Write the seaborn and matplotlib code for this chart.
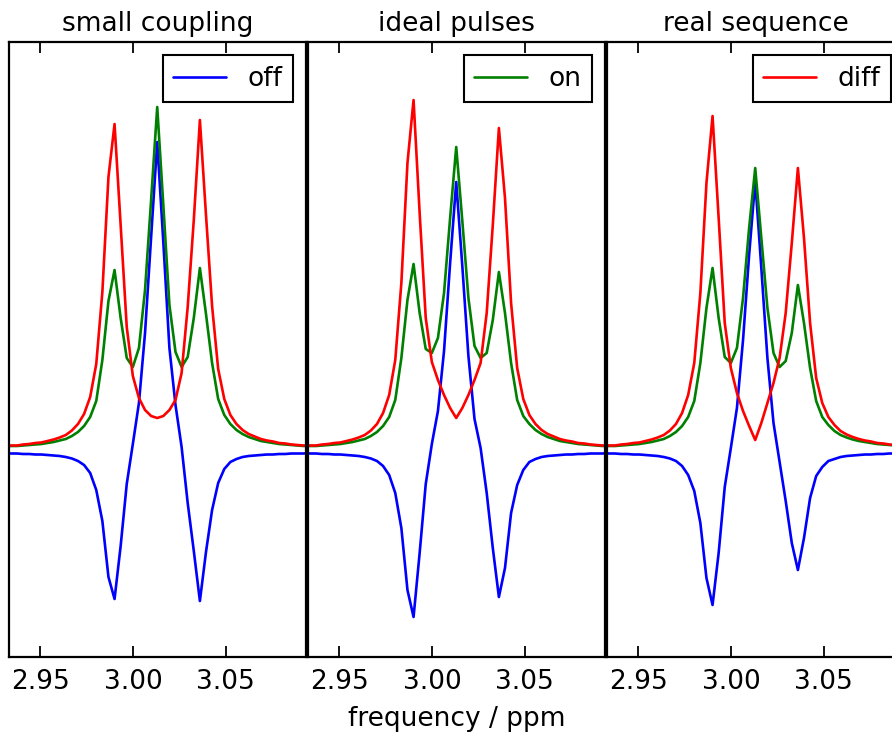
import matplotlib
matplotlib.use("Agg")
import matplotlib.pyplot as plt
import pandas as pd
import seaborn as sns

# chemical-shift grid of the sampled spectrum (ppm)
ppm = [2.93075, 2.93404, 2.93733, 2.94062, 2.94391, 2.94720, 2.95049, 2.95378,
       2.95707, 2.96036, 2.96365, 2.96694, 2.97023, 2.97352, 2.97681, 2.98010,
       2.98339, 2.98668, 2.98997, 2.99326, 2.99655, 2.99984, 3.00313, 3.00642,
       3.00971, 3.01300, 3.01629, 3.01958, 3.02287, 3.02616, 3.02945, 3.03274,
       3.03603, 3.03932, 3.04261, 3.04590, 3.04919, 3.05248, 3.05577, 3.05906,
       3.06235, 3.06564, 3.06893, 3.07222, 3.07551, 3.07880, 3.08209, 3.08538,
       3.08867, 3.09196, 3.09525]

panel_titles = ["small coupling", "ideal pulses", "real sequence"]
spectrum_names = ["off", "on", "diff"]
legend_entry = ["off", "on", "diff"]          # one legend entry per panel
xtick_values = [2.95, 3.00, 3.05]
xtick_labels = ["2.95", "3.00", "3.05"]

# --- small coupling ---
off_small = [0, -0.5, -0.5, -1, -1, -1.5, -1.5, -2, -2.5, -3,
             -4, -5.5, -8, -12, -20, -37, -68, -124, -146, -93,
             -31, 9, 50, 120, 216, 311, 211, 105, 48, 6,
             -50, -98, -148, -99, -57, -30, -16, -9, -6, -4,
             -3, -2.5, -2, -1.5, -1.5, -1, -1, -0.5, -0.5, -0.5, 0]
on_small = [6.5, 7, 7, 7.5, 8, 8.5, 9, 10, 11, 12.5,
            14, 17, 21, 27, 36, 52, 93, 152, 183, 135,
            95, 86, 105, 163, 253, 346, 248, 148, 101, 86,
            96, 135, 185, 139, 90, 54, 38, 29, 23, 19,
            16, 14, 12, 11, 10, 9, 8.5, 8, 7.5, 7, 7]
diff_small = [6.5, 7.5, 7.5, 8.5, 9, 10, 10.5, 12, 13.5, 15.5,
              18, 22.5, 29, 39, 56, 89, 161, 276, 329, 228,
              126, 77, 55, 43, 37, 35, 37, 43, 53, 80,
              146, 233, 333, 238, 147, 84, 54, 38, 29, 23,
              19, 16.5, 14, 12.5, 11.5, 10, 9.5, 8.5, 8, 7.5, 7]

# --- ideal pulses ---
off_ideal = [0, -0.5, -0.5, -1, -1, -1.5, -1.5, -2, -2.5, -3,
             -4, -5.5, -8, -13, -22, -40, -75, -137, -164, -100,
             -31, 9, 42, 102, 190, 271, 187, 97, 34, 5,
             -40, -95, -144, -115, -60, -32, -17, -9, -6, -4,
             -3, -2.5, -2, -1.5, -1.5, -1, -1, -0.5, -0.5, -0.5, 0]
on_ideal = [6.5, 7, 7, 7.5, 8, 8.5, 9, 10, 11, 12.5,
            14, 17, 21, 27, 36, 53, 95, 153, 189, 140,
            104, 100, 115, 160, 235, 306, 232, 155, 107, 95,
            100, 133, 181, 140, 90, 53, 37, 29, 23, 19,
            16, 14, 12, 11, 10, 9, 8.5, 8, 7.5, 7, 7]
diff_ideal = [6.5, 7.5, 7.5, 8.5, 9, 10, 10.5, 12, 13.5, 15.5,
              18, 22.5, 29, 40, 58, 93, 170, 290, 353, 240,
              135, 91, 73, 58, 45, 35, 45, 58, 73, 90,
              140, 228, 325, 255, 150, 85, 54, 38, 29, 23,
              19, 16.5, 14, 12.5, 11.5, 10, 9.5, 8.5, 8, 7.5, 7]

# --- real sequence ---
off_real = [0, -0.5, -0.5, -1, -1, -1.5, -1.5, -2, -2.5, -3,
            -4, -5.5, -8, -13, -22, -38, -70, -125, -152, -100,
            -34, 5, 45, 113, 198, 272, 185, 95, 30, -9,
            -48, -90, -117, -85, -45, -23, -14, -8, -6, -4,
            -3, -2.5, -2, -1.5, -1.5, -1, -1, -0.5, -0.5, -0.5, 0]
on_real = [6.5, 7, 7, 7.5, 8, 8.5, 9, 10, 11, 12.5,
           14, 17, 21, 27, 36, 52, 90, 145, 185, 135,
           96, 90, 105, 155, 225, 285, 215, 145, 100, 86,
           92, 120, 168, 130, 85, 52, 36, 28, 22, 18,
           15.5, 13.5, 12, 11, 10, 9, 8.5, 8, 7.5, 7, 7]
diff_real = [6.5, 7.5, 7.5, 8.5, 9, 10, 10.5, 12, 13.5, 15.5,
             18, 22.5, 29, 40, 58, 90, 160, 270, 337, 235,
             130, 85, 60, 42, 27, 13, 30, 50, 70, 95,
             140, 210, 285, 215, 130, 75, 50, 36, 28, 22,
             18.5, 16, 14, 12.5, 11.5, 10, 9.5, 8.5, 8, 7.5, 7]

panel_series = [
    (off_small, on_small, diff_small),
    (off_ideal, on_ideal, diff_ideal),
    (off_real, on_real, diff_real),
]

colors = {"off": "#0000ff", "on": "#008000", "diff": "#ff0000"}

sns.set_theme(style="ticks")
plt.rcParams.update({
    "font.family": ["DejaVu Sans"],
    "font.size": 19,
    "axes.titlesize": 19,
    "axes.labelsize": 19,
    "legend.fontsize": 19,
    "axes.linewidth": 1.6,
    "axes.edgecolor": "black",
    "axes.facecolor": "white",
    "figure.facecolor": "white",
    "text.color": "black",
    "axes.labelcolor": "black",
    "xtick.color": "black",
    "xtick.labelcolor": "black",
    "xtick.direction": "in",
    "xtick.top": True,
    "xtick.bottom": True,
    "xtick.major.size": 7.7,
    "xtick.major.width": 1.3,
    "xtick.major.pad": 8.5,
    "xtick.labelsize": 19,
})

fig, axes = plt.subplots(1, 3, figsize=(8.92, 7.37), dpi=100, sharey=True)
# panel width 297 px, 2 px between neighbouring frames; the last panel runs past the edge
fig.subplots_adjust(left=9 / 892, right=904 / 892, bottom=80 / 737,
                    top=695 / 737, wspace=2 / 297)

for i, (ax, title, series) in enumerate(zip(axes, panel_titles, panel_series)):
    frames = []
    for name, values in zip(spectrum_names, series):
        frames.append(pd.DataFrame({"ppm": ppm, "signal": values, "spectrum": name}))
    df = pd.concat(frames, ignore_index=True)
    sns.lineplot(data=df, x="ppm", y="signal", hue="spectrum",
                 hue_order=spectrum_names, palette=colors, estimator=None,
                 sort=False, linewidth=1.9, legend=False, ax=ax)

    ax.set_xlim(2.933, 3.0933)
    ax.set_ylim(-204, 411)
    ax.set_xticks(xtick_values)
    ax.set_xticklabels(xtick_labels)
    ax.set_yticks([])
    ax.tick_params(axis="y", left=False, right=False, labelleft=False)
    ax.set_ylabel("")
    ax.set_xlabel("")
    ax.set_title(title, pad=8)
    for side in ["top", "bottom", "left", "right"]:
        ax.spines[side].set_visible(True)
        ax.spines[side].set_color("black")

    # each panel carries one entry of the legend
    entry = legend_entry[i]
    handle = ax.lines[spectrum_names.index(entry)]
    leg = ax.legend([handle], [entry], loc="upper right", frameon=True,
                    fancybox=False, framealpha=1, edgecolor="black",
                    borderaxespad=0.5, handlelength=2.0, handletextpad=0.8,
                    borderpad=0.4)
    leg.get_frame().set_linewidth(1.5)

axes[1].set_xlabel("frequency / ppm", labelpad=8)

fig.savefig("out.png", dpi=100, facecolor="white")
